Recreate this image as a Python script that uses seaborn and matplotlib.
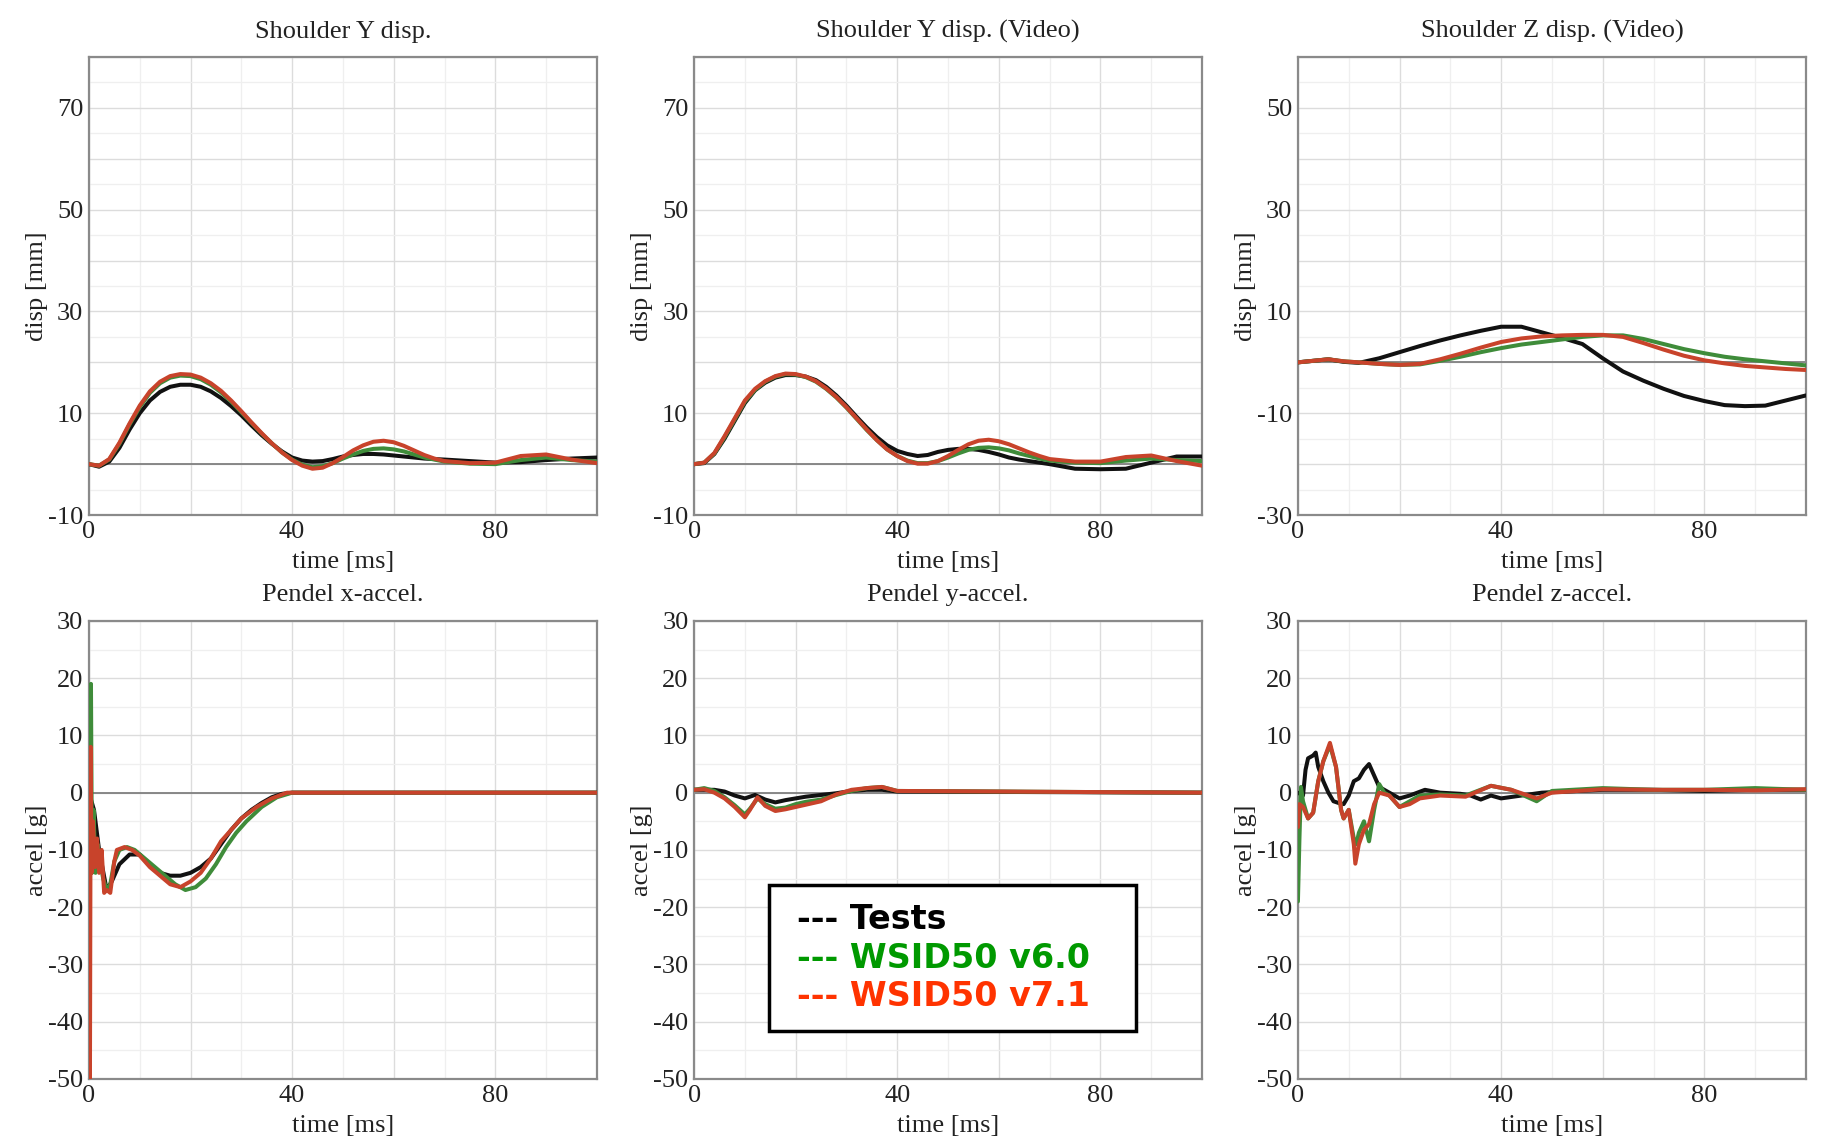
import numpy as np
import pandas as pd
import seaborn as sns
import matplotlib.pyplot as plt
from matplotlib.ticker import MultipleLocator, FuncFormatter
from matplotlib.lines import Line2D

# --- Shoulder Y disp. ---
t_sy = [0, 2, 4, 6, 8, 10, 12, 14, 16, 18, 20, 22, 24, 26, 28, 30, 32, 34, 36, 38, 40,
        42, 44, 46, 48, 50, 52, 54, 56, 58, 60, 62, 64, 66, 68, 70, 75, 80, 85, 90, 95, 100]
sy_tests = [0, -0.5, 0.5, 3.2, 6.8, 10, 12.5, 14.2, 15.2, 15.6, 15.6, 15.2, 14.3, 13, 11.4,
            9.6, 7.6, 5.7, 4, 2.5, 1.3, 0.7, 0.5, 0.6, 1.0, 1.5, 1.8, 2.0, 2.0, 1.9, 1.7,
            1.5, 1.3, 1.1, 1.0, 0.9, 0.6, 0.3, 0.4, 0.8, 1.1, 1.3]
sy_v60 = [0, -0.3, 0.9, 4.0, 7.8, 11.2, 14.0, 15.9, 17.0, 17.4, 17.3, 16.7, 15.6, 14.1, 12.3,
          10.2, 8.1, 6.0, 4.1, 2.3, 0.9, -0.1, -0.6, -0.4, 0.2, 1.1, 1.9, 2.6, 3.0, 3.1, 2.9,
          2.5, 1.9, 1.3, 0.9, 0.5, 0.1, 0.0, 0.8, 1.3, 0.8, 0.5]
sy_v71 = [0, -0.3, 1.0, 4.2, 8, 11.5, 14.3, 16.2, 17.3, 17.7, 17.6, 17.0, 15.9, 14.4, 12.5,
          10.4, 8.2, 6.1, 4.1, 2.3, 0.8, -0.3, -0.9, -0.7, 0.2, 1.4, 2.7, 3.7, 4.4, 4.6, 4.3,
          3.6, 2.7, 1.8, 1.1, 0.6, 0.2, 0.3, 1.6, 1.9, 0.9, 0.2]

# --- Shoulder Y disp. (Video) ---
t_syv = t_sy
syv_tests = [0, 0.2, 2, 5, 8.5, 12, 14.5, 16, 17, 17.5, 17.5, 17.2, 16.5, 15.2, 13.5, 11.5,
             9.3, 7.2, 5.3, 3.7, 2.6, 2.0, 1.6, 1.8, 2.4, 2.8, 3.0, 3.0, 2.8, 2.4, 1.9, 1.3,
             0.9, 0.6, 0.3, 0.0, -0.9, -1.0, -0.9, 0.3, 1.5, 1.5]
syv_v60 = [0, 0.3, 2.1, 5.3, 8.8, 12.3, 14.6, 16.2, 17.2, 17.7, 17.6, 17.1, 16.2, 14.8, 13.1,
           11.1, 8.9, 6.7, 4.7, 2.9, 1.6, 0.7, 0.2, 0.2, 0.6, 1.3, 2.1, 2.8, 3.2, 3.3, 3.1,
           2.7, 2.1, 1.6, 1.1, 0.7, 0.3, 0.2, 0.7, 1.1, 0.8, 0.6]
syv_v71 = [0, 0.3, 2.2, 5.5, 9, 12.5, 14.8, 16.3, 17.3, 17.8, 17.7, 17.2, 16.3, 14.9, 13.2,
           11.2, 9.0, 6.8, 4.7, 2.9, 1.6, 0.6, 0.1, 0.1, 0.6, 1.6, 2.8, 3.9, 4.6, 4.8, 4.5,
           3.9, 3.1, 2.3, 1.6, 1.0, 0.5, 0.5, 1.4, 1.7, 0.6, -0.3]

# --- Shoulder Z disp. (Video) ---
t_sz = [0, 3, 6, 9, 12, 16, 20, 24, 28, 32, 36, 40, 44, 48, 52, 56, 60, 64, 68, 72, 76,
        80, 84, 88, 92, 96, 100]
sz_tests = [0, 0.3, 0.6, 0.1, -0.1, 0.8, 2.0, 3.2, 4.3, 5.3, 6.2, 7.0, 7.0, 5.9, 4.8, 3.6,
            0.8, -1.8, -3.6, -5.2, -6.6, -7.6, -8.4, -8.6, -8.5, -7.5, -6.5]
sz_v60 = [0, 0.3, 0.6, 0.2, 0, -0.3, -0.5, -0.4, 0.3, 1.1, 2.0, 2.8, 3.5, 4.0, 4.5, 5.0,
          5.3, 5.3, 4.6, 3.6, 2.6, 1.8, 1.1, 0.6, 0.2, -0.2, -0.6]
sz_v71 = [0, 0.3, 0.6, 0.2, 0, -0.3, -0.5, -0.3, 0.6, 1.7, 2.9, 4.0, 4.7, 5.1, 5.3, 5.4,
          5.4, 5.0, 3.8, 2.5, 1.3, 0.4, -0.2, -0.7, -1.0, -1.3, -1.5]

# --- Pendel x-accel. ---
tx_tests = [0, 1, 2, 3.5, 4.5, 6, 8, 10, 12, 14, 16, 18, 20, 22, 24, 26, 28, 30, 32, 34, 36,
            38, 40, 100]
ax_tests = [0, -3, -10, -17, -15.5, -12.5, -10.8, -10.8, -12.5, -14, -14.5, -14.5, -14, -13,
            -11.5, -9, -6.5, -4.5, -3, -1.8, -0.8, -0.2, 0, 0]
tx_v60 = [0, 0.2, 0.4, 0.6, 0.9, 1.3, 1.7, 2.2, 2.8, 3.5, 4.2, 5.0, 6, 7.5, 9, 11, 13, 15, 17,
          19, 21, 23, 25, 27, 29, 31, 34, 37, 40, 100]
ax_v60 = [0, -14, 19, -14, -3, -14, -9, -12, -15, -17, -16, -12, -10, -9.5, -10, -11.5, -13,
          -14.5, -16, -17, -16.5, -15, -12.5, -9.5, -7, -5, -2.5, -0.8, 0, 0]
tx_v71 = [0, 0.2, 0.35, 0.5, 0.8, 1.2, 1.6, 2.0, 2.5, 3.0, 3.5, 4.2, 5.0, 5.5, 7, 8.5, 10,
          12, 14, 16, 18, 20, 22, 24, 26, 28, 30, 33, 36, 39, 100]
ax_v71 = [0, -50, 8, -14, -5, -13, -8, -14, -10, -17.5, -17, -17.5, -12, -10, -9.5, -10, -11,
          -13, -14.5, -16, -16.5, -15.5, -14, -11.5, -8.5, -6.5, -4.5, -2.5, -1, 0, 0]

# --- Pendel y-accel. ---
ty_tests = [0, 2, 4, 6, 8, 10, 12, 14, 16, 18, 20, 22, 25, 28, 31, 34, 37, 40, 100]
ay_tests = [0.5, 0.5, 0.5, 0.2, -0.5, -1.0, -0.4, -1.2, -1.7, -1.3, -1.0, -0.7, -0.4, -0.1,
            0.3, 0.5, 0.5, 0.2, 0]
ty_models = [0, 2, 4, 6, 8, 10, 11, 12.5, 14, 16, 18, 20, 22, 25, 28, 31, 34, 37, 40, 100]
ay_v60 = [0.5, 0.8, 0.3, -0.8, -2.2, -3.8, -2.8, -1.0, -2.0, -2.8, -2.6, -2.0, -1.6, -1.2,
          -0.4, 0.3, 0.8, 1.0, 0.3, 0]
ay_v71 = [0.5, 0.6, 0, -1.0, -2.5, -4.3, -3.0, -0.8, -2.3, -3.2, -2.9, -2.5, -2.1, -1.5,
          -0.3, 0.5, 0.8, 1.0, 0.3, 0]

# --- Pendel z-accel. ---
tz_tests = [0, 1, 1.5, 2, 3, 3.5, 4, 5, 6, 7, 8, 9, 10, 11, 12, 13, 14, 15, 16, 17, 18, 20,
            22, 25, 28, 32, 34, 36, 38, 40, 44, 48, 55, 60, 70, 80, 90, 100]
az_tests = [0, -0.5, 4, 6, 6.5, 7, 4.5, 2, 0, -1.5, -1.8, -2, -0.5, 2, 2.5, 4, 5, 3, 1, 0.5,
            0, -1, -0.5, 0.5, 0, -0.2, -0.5, -1.2, -0.5, -1, -0.5, 0, 0.3, 0.5, 0.5, 0.3,
            0.5, 0.5]
tz_v60 = [0, 0.3, 0.6, 1, 2, 3, 4, 5, 6.3, 7.5, 8.5, 9, 10, 11, 11.5, 12, 13, 14, 15, 16, 17,
          18, 20, 22, 24, 28, 33, 38, 42, 47, 50, 60, 70, 80, 90, 100]
az_v60 = [-19, -8, 1, -1.5, -4.5, -3.5, 2, 5.5, 8.3, 4.5, -3, -4.5, -3, -8, -9, -7, -5, -8.5,
          -3, 1.5, 0, -0.5, -2.5, -1.5, -0.5, -0.3, -0.5, 1.2, 0.5, -1.5, 0.3, 0.8, 0.5,
          0.5, 0.8, 0.5]
tz_v71 = [0, 0.3, 1, 2, 3, 4, 5, 6.3, 7.5, 8.5, 9, 10, 11, 11.3, 12, 13, 14, 15, 16, 18, 20,
          22, 24, 28, 33, 38, 42, 47, 50, 60, 70, 80, 90, 100]
az_v71 = [-6, -2, -2.5, -4.5, -3.5, 2, 5.5, 8.7, 4.5, -3, -4.5, -3, -9, -12.4, -9, -6.5, -5.5,
          -2, 0, -0.5, -2.5, -2, -1, -0.5, -0.7, 1.2, 0.5, -1, 0, 0.6, 0.5, 0.5, 0.4, 0.6]

legend_labels = ["--- Tests", "--- WSID50 v6.0", "--- WSID50 v7.1"]
legend_colors = ["#000000", "#009900", "#ff3300"]
line_colors = ["#111111", "#3f8c3a", "#c8432b"]

sns.set_theme(style="white")
plt.rcParams['font.family'] = ['Liberation Serif', 'DejaVu Serif']

fig = plt.figure(figsize=(18.26, 11.42), dpi=100)

lefts = [0.0487, 0.3801, 0.7108]
bottoms = [0.549, 0.0552]
w, h = 0.2782, 0.4011

panels = [
    ("Shoulder Y disp.", "disp [mm]", (-10, 80), [-10, 10, 30, 50, 70],
     [(t_sy, sy_tests), (t_sy, sy_v60), (t_sy, sy_v71)]),
    ("Shoulder Y disp. (Video)", "disp [mm]", (-10, 80), [-10, 10, 30, 50, 70],
     [(t_syv, syv_tests), (t_syv, syv_v60), (t_syv, syv_v71)]),
    ("Shoulder Z disp. (Video)", "disp [mm]", (-30, 60), [-30, -10, 10, 30, 50],
     [(t_sz, sz_tests), (t_sz, sz_v60), (t_sz, sz_v71)]),
    ("Pendel x-accel.", "accel [g]", (-50, 30), list(range(-50, 31, 10)),
     [(tx_tests, ax_tests), (tx_v60, ax_v60), (tx_v71, ax_v71)]),
    ("Pendel y-accel.", "accel [g]", (-50, 30), list(range(-50, 31, 10)),
     [(ty_tests, ay_tests), (ty_models, ay_v60), (ty_models, ay_v71)]),
    ("Pendel z-accel.", "accel [g]", (-50, 30), list(range(-50, 31, 10)),
     [(tz_tests, az_tests), (tz_v60, az_v60), (tz_v71, az_v71)]),
]

text_c = "#222222"
axes = []
for i, (title, ylab, ylim, ylabels, series) in enumerate(panels):
    ax = fig.add_axes([lefts[i % 3], bottoms[i // 3], w, h])
    axes.append(ax)
    for (t, v), c in zip(series, line_colors):
        df = pd.DataFrame({"t": t, "v": v})
        sns.lineplot(data=df, x="t", y="v", ax=ax, color=c, lw=2.9,
                     estimator=None, sort=False, zorder=3)
    ax.axhline(0, color="#808080", lw=1.3, zorder=2)
    ax.set_xlim(0, 100)
    ax.set_ylim(*ylim)

    ax.xaxis.set_major_locator(MultipleLocator(20))
    ax.xaxis.set_minor_locator(MultipleLocator(10))
    ax.xaxis.set_major_formatter(FuncFormatter(
        lambda v, p: f"{v:g}" if round(v) in (0, 40, 80) else ""))
    ax.yaxis.set_major_locator(MultipleLocator(10))
    ax.yaxis.set_minor_locator(MultipleLocator(5))
    ax.yaxis.set_major_formatter(FuncFormatter(
        lambda v, p, labs=ylabels: f"{v:g}" if round(v) in labs else ""))

    ax.grid(which="major", color="#dcdcdc", lw=1.0, zorder=0)
    ax.grid(which="minor", color="#efefef", lw=0.9, zorder=0)
    ax.tick_params(which="both", length=0, labelsize=19, colors=text_c, pad=4)
    for s in ax.spines.values():
        s.set_color("#8a8a8a")
        s.set_linewidth(1.6)

    ax.set_title(title, fontsize=19, color=text_c, pad=14)
    ax.set_xlabel("time [ms]", fontsize=19, color=text_c, labelpad=6)
    ax.set_ylabel(ylab, fontsize=19, color=text_c, labelpad=0)

handles = [Line2D([], [], linestyle="none") for _ in legend_labels]
leg = axes[4].legend(handles, legend_labels, loc="upper left", mode="expand",
                     bbox_to_anchor=(0.4211, 0.095, 0.2011, 0.130),
                     bbox_transform=fig.transFigure,
                     handlelength=0, handletextpad=0.3, labelspacing=0.16,
                     borderpad=0.55, borderaxespad=0, fancybox=False, framealpha=1,
                     edgecolor="black", labelcolor=legend_colors,
                     prop={"family": "DejaVu Sans", "weight": "bold", "size": 24})
leg.get_frame().set_linewidth(2.5)
leg.set_zorder(10)

fig.savefig("out.png", dpi=100)
